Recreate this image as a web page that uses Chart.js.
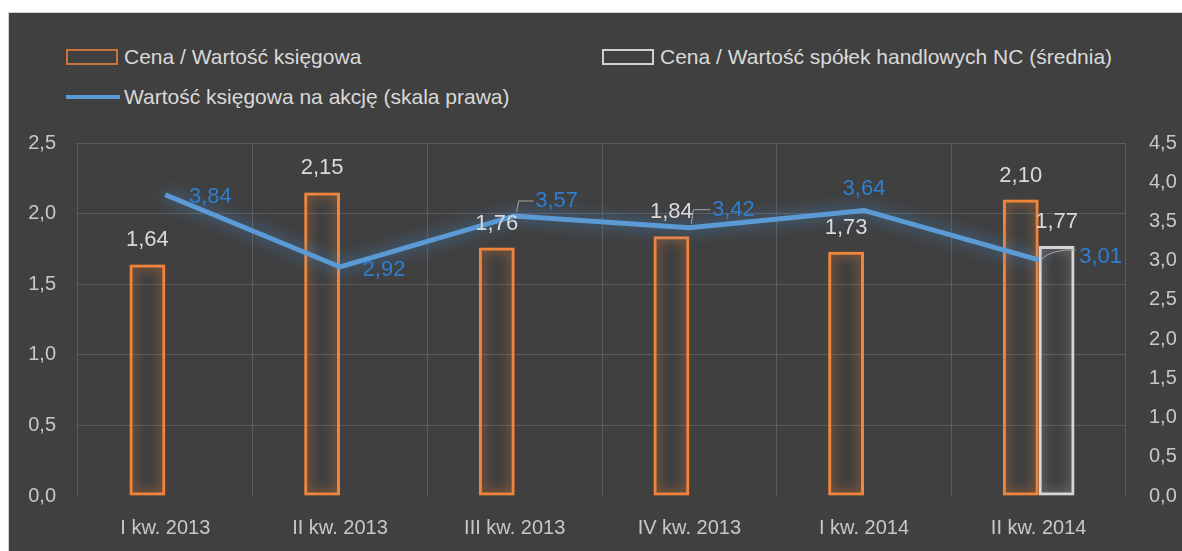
<!DOCTYPE html>
<html lang="pl">
<head>
<meta charset="utf-8">
<script src="https://cdn.jsdelivr.net/npm/chart.js@4.4.1/dist/chart.umd.min.js"></script>
<style>
  html, body { margin: 0; padding: 0; background: #ffffff; }
  body { width: 1182px; height: 551px; position: relative; overflow: hidden;
         font-family: "Liberation Sans", Arial, sans-serif; }
  #panel { position: absolute; left: 8px; top: 12px; right: 0; bottom: 0;
           background: #404040; border-left: 1px solid #d0d0d0; border-top: 1px solid #d0d0d0; }
  #chartBox { position: absolute; left: 0; top: 0; width: 1182px; height: 551px; }
  .lg { position: absolute; color: #d9d9d9; font-size: 21px; line-height: 24px; white-space: nowrap; }
  .sw { position: absolute; box-sizing: border-box; }
</style>
</head>
<body>
<div id="panel"></div>
<div id="legend"></div>
<div id="chartBox"><canvas id="chart" width="1182" height="551"></canvas></div>
<script>
// Dane wykresu
const categories = ['I kw. 2013', 'II kw. 2013', 'III kw. 2013', 'IV kw. 2013', 'I kw. 2014', 'II kw. 2014'];
const priceToBook = [1.64, 2.15, 1.76, 1.84, 1.73, 2.10];
const priceToBookNC = [null, null, null, null, null, 1.77];
const bookValuePerShare = [3.84, 2.92, 3.57, 3.42, 3.64, 3.01];

const seriesNames = [
    'Cena / Wartość księgowa',
    'Cena / Wartość spółek handlowych NC (średnia)',
    'Wartość księgowa na akcję (skala prawa)'
];

const leftAxis = { min: 0, max: 2.5, step: 0.5 };
const rightAxis = { min: 0, max: 4.5, step: 0.5 };

// Przesunięcia etykiet linii względem punktów (px)
const lineLabelOffsets = [[45, 2], [44, 3], [42, -15], [44, -18], [0, -22], [62, -3]];
const lineLabelLeaders = [false, false, true, true, false, true];

const ORANGE = '#f0843a';
const GREY = '#d6d6d6';
const BLUE = '#5b9bd5';
const BLUE_TEXT = '#2f7fcf';
const TEXT = '#d9d9d9';
const FONT = '"Liberation Sans", Arial, sans-serif';

const fmt = (v, d) => v.toFixed(d).replace('.', ',');

// Legenda w HTML
const legend = document.getElementById('legend');
const legendItems = [
    { name: seriesNames[0], x: 66, y: 57, kind: 'box', color: '#c8743c' },
    { name: seriesNames[1], x: 602, y: 57, kind: 'box', color: '#d0d0d0' },
    { name: seriesNames[2], x: 66, y: 97, kind: 'line', color: BLUE }
];
legendItems.forEach(it => {
    const sw = document.createElement('div');
    sw.className = 'sw';
    if (it.kind === 'box') {
        sw.style.cssText = `left:${it.x}px;top:${it.y - 8}px;width:52px;height:16px;border:2px solid ${it.color};`;
    } else {
        sw.style.cssText = `left:${it.x}px;top:${it.y - 2}px;width:54px;height:4px;background:${it.color};`;
    }
    legend.appendChild(sw);
    const t = document.createElement('div');
    t.className = 'lg';
    t.style.left = (it.x + 58) + 'px';
    t.style.top = (it.y - 12) + 'px';
    t.textContent = it.name;
    legend.appendChild(t);
});

// Poświata dla serii
const glowPlugin = {
    id: 'glow',
    beforeDatasetDraw(chart, args) {
        const ds = chart.data.datasets[args.index];
        chart.ctx.save();
        chart.ctx.shadowColor = ds.glowColor || 'transparent';
        chart.ctx.shadowBlur = ds.glowBlur || 0;
    },
    afterDatasetDraw(chart) {
        chart.ctx.restore();
    }
};

// Etykiety danych
const labelPlugin = {
    id: 'valueLabels',
    afterDatasetsDraw(chart) {
        const ctx = chart.ctx;
        ctx.save();
        ctx.font = `22px ${FONT}`;
        ctx.textAlign = 'center';
        ctx.textBaseline = 'middle';
        chart.data.datasets.forEach((ds, di) => {
            const meta = chart.getDatasetMeta(di);
            meta.data.forEach((el, i) => {
                const v = ds.data[i];
                if (v === null || v === undefined) return;
                if (ds.type === 'line') {
                    const [dx, dy] = lineLabelOffsets[i];
                    const lx = el.x + dx, ly = el.y + dy;
                    if (lineLabelLeaders[i]) {
                        ctx.strokeStyle = '#a6a6a6';
                        ctx.lineWidth = 1;
                        ctx.beginPath();
                        if (dy < -5) {
                            ctx.moveTo(el.x + 2, el.y - 4);
                            ctx.lineTo(el.x + 4, ly);
                            ctx.lineTo(lx - 23, ly);
                        } else {
                            ctx.moveTo(el.x + 3, el.y - 1);
                            ctx.quadraticCurveTo(el.x + 14, ly - 8, lx - 25, ly - 7);
                        }
                        ctx.stroke();
                    }
                    ctx.fillStyle = BLUE_TEXT;
                    ctx.fillText(fmt(v, 2), lx, ly);
                } else {
                    ctx.fillStyle = TEXT;
                    ctx.fillText(fmt(v, 2), el.x, el.y - 24);
                }
            });
        });
        ctx.restore();
    }
};

const ctx = document.getElementById('chart').getContext('2d');
const chart = new Chart(ctx, {
    type: 'bar',
    data: {
        labels: categories,
        datasets: [
            {
                type: 'line',
                label: seriesNames[2],
                data: bookValuePerShare,
                yAxisID: 'y2',
                borderColor: BLUE,
                borderWidth: 5,
                pointRadius: 0,
                tension: 0,
                order: 0,
                glowColor: 'rgba(70,150,230,0.75)',
                glowBlur: 16
            },
            {
                label: seriesNames[0],
                data: priceToBook,
                yAxisID: 'y',
                backgroundColor: 'transparent',
                borderColor: ORANGE,
                borderWidth: 3,
                borderSkipped: false,
                categoryPercentage: 0.41,
                barPercentage: 1.0,
                order: 1,
                glowColor: 'rgba(240,130,50,0.9)',
                glowBlur: 12
            },
            {
                label: seriesNames[1],
                data: priceToBookNC,
                yAxisID: 'y',
                backgroundColor: 'transparent',
                borderColor: GREY,
                borderWidth: 3,
                borderSkipped: false,
                categoryPercentage: 0.41,
                barPercentage: 1.0,
                order: 2,
                glowColor: 'rgba(230,230,230,0.6)',
                glowBlur: 12
            }
        ]
    },
    options: {
        responsive: false,
        animation: false,
        devicePixelRatio: 1,
        layout: { padding: { top: 143, left: 0, right: 0, bottom: 0 } },
        plugins: {
            legend: { display: false },
            tooltip: { enabled: false },
            title: { display: false }
        },
        scales: {
            x: {
                grid: { color: '#5c5c5c', lineWidth: 1, drawTicks: false },
                border: { display: false },
                ticks: { color: '#c8c8c8', font: { family: FONT, size: 20 }, padding: 20, maxRotation: 0 },
                afterFit: s => { s.height = 55; }
            },
            y: {
                position: 'left',
                min: leftAxis.min,
                max: leftAxis.max,
                grid: {
                    color: c => c.tick.value === 0 ? 'transparent' : '#5c5c5c',
                    lineWidth: 1,
                    drawTicks: false
                },
                border: { display: false },
                ticks: {
                    stepSize: leftAxis.step,
                    color: '#c8c8c8',
                    font: { family: FONT, size: 20 },
                    padding: 22,
                    callback: v => fmt(v, 1)
                },
                afterFit: s => { s.width = 78; }
            },
            y2: {
                position: 'right',
                min: rightAxis.min,
                max: rightAxis.max,
                grid: { display: false, drawTicks: false },
                border: { display: false },
                ticks: {
                    stepSize: rightAxis.step,
                    color: '#c8c8c8',
                    font: { family: FONT, size: 20 },
                    padding: 23,
                    callback: v => fmt(v, 1)
                },
                afterFit: s => { s.width = 1182 - 1126; }
            }
        }
    },
    plugins: [glowPlugin, labelPlugin]
});
</script>
</body>
</html>
